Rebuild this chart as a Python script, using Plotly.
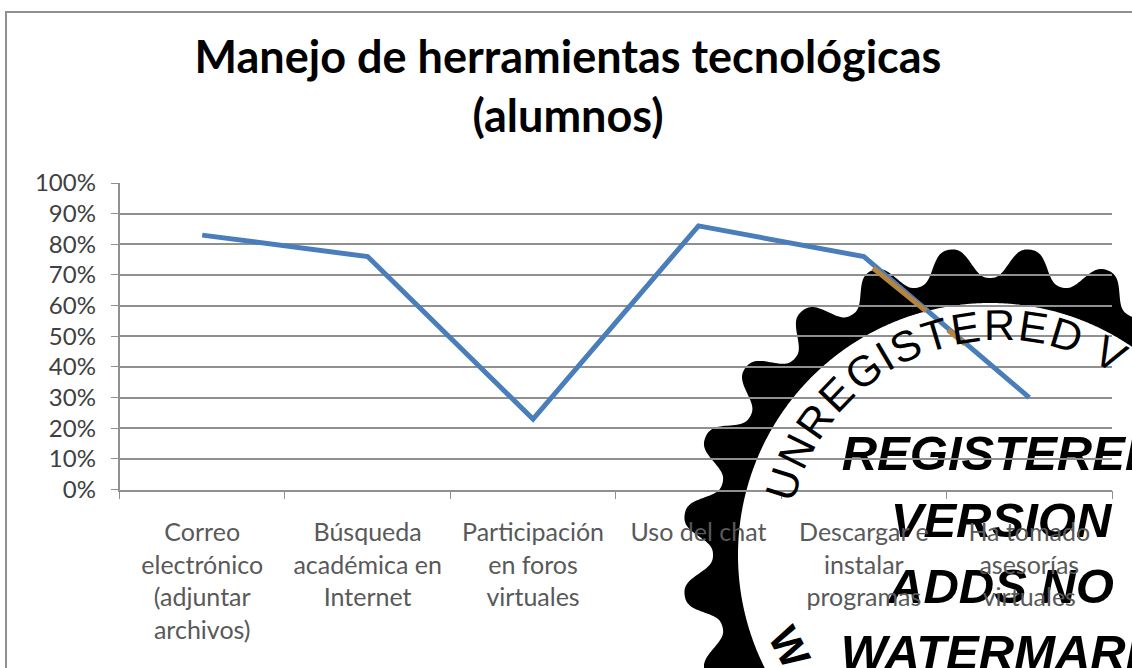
import numpy as np
import plotly.graph_objects as go

# ---- chart data ----
category_lines = [
    ["Correo", "electrónico", "(adjuntar", "archivos)"],
    ["Búsqueda", "académica en", "Internet"],
    ["Participación", "en foros", "virtuales"],
    ["Uso del chat"],
    ["Descargar e", "instalar", "programas"],
    ["Ha tomado", "asesorías", "virtuales"],
]
values = [0.83, 0.76, 0.23, 0.86, 0.76, 0.30]
y_ticks = [i / 10 for i in range(11)]
title_lines = ["Manejo de herramientas tecnológicas", "(alumnos)"]

# ---- watermark text ----
wm_lines = ["REGISTERED", "VERSION", "ADDS NO", "WATERMARK"]
wm_arc_text = "UNREGISTERED VE"

W, H = 1132, 668
L, R, T, B = 119.5, 1112.0, 183.0, 489.5
GRID = "#909090"
LINE = "#4a7ebb"

labels = ["<br>".join(lines) for lines in category_lines]

fig = go.Figure()

# First subplot spans the page in pixel units and holds the watermark, so the chart sits on top of it.
fig.add_trace(go.Scatter(
    x=[1001] * 4, y=[458, 525, 591, 657], text=[f"<b><i>{s}</i></b>" for s in wm_lines],
    mode="text", textposition="middle center", cliponaxis=False,
    textfont=dict(family="Liberation Sans", size=49, color="black"),
    xaxis="x", yaxis="y", showlegend=False, hoverinfo="skip"))

fig.add_trace(go.Scatter(x=labels, y=values, mode="lines", line=dict(color=LINE, width=5),
                         xaxis="x2", yaxis="y2", showlegend=False, hoverinfo="skip"))

# ---- watermark gear (ring with toothed outer edge) ----
CX, CY = 990.0, 555.0
RI, RV, RO = 252.0, 277.0, 308.0
th = np.radians(np.arange(0, 360, 0.25))
c = np.cos(24 * (th - np.radians(7.5)))
prof = 0.5 + 0.5 * (1.3 * c - 0.3 * c**3)
rad = RV + (RO - RV) * prof
outer = [(CX + r * np.sin(t), CY - r * np.cos(t)) for r, t in zip(rad, th)]
inner = [(CX + RI * np.sin(t), CY - RI * np.cos(t)) for t in th[::-1]]


def to_path(pts):
    return "M" + " L".join(f"{a:.2f},{b:.2f}" for a, b in pts) + " Z"


shapes = [
    dict(type="rect", xref="x", yref="y", x0=6, x1=1150, y0=12, y1=700,
         line=dict(color=GRID, width=2), layer="below"),
    dict(type="path", xref="x", yref="y", path=to_path(outer) + " " + to_path(inner),
         fillcolor="black", line=dict(width=0), layer="below"),
    dict(type="line", xref="x", yref="y", x0=873, y0=268, x1=926, y1=311,
         line=dict(color="#b5853f", width=5), layer="above"),
    dict(type="line", xref="x", yref="y", x0=948, y0=330, x1=965, y1=344,
         line=dict(color="#b5853f", width=5), layer="above"),
]

# ---- watermark text on the arc ----
widths = {"U": 722, "N": 722, "R": 722, "E": 667, "G": 778, "I": 278, "S": 667, "T": 611, "D": 722, " ": 278, "V": 667}
TX, TY, TR = 1000.0, 552.0, 227.0
start, scale = -72.6, 99.3 / 7997
annotations = []
pos = widths[wm_arc_text[0]] / 2
for i, ch in enumerate(wm_arc_text):
    if i > 0:
        pos += widths[wm_arc_text[i - 1]] / 2 + widths[ch] / 2
    ang = start + (pos - widths[wm_arc_text[0]] / 2) * scale
    if ch == " ":
        continue
    a = np.radians(ang)
    annotations.append(dict(
        text=ch, xref="x", yref="y", x=TX + TR * np.sin(a), y=TY - TR * np.cos(a),
        xanchor="center", yanchor="middle", showarrow=False, textangle=float(ang),
        font=dict(family="Liberation Sans", size=43, color="black")))
annotations.append(dict(
    text="<b>W</b>", xref="x", yref="y", x=790, y=647, xanchor="center", yanchor="middle",
    showarrow=False, textangle=62, font=dict(family="Liberation Sans", size=42, color="black")))

fig.update_layout(
    width=W, height=H, autosize=False,
    margin=dict(l=0, r=0, t=0, b=0, pad=0),
    paper_bgcolor="white", plot_bgcolor="rgba(0,0,0,0)",
    font=dict(family="Lato"),
    title=dict(
        text="<br>".join(title_lines),
        font=dict(family="Lato", size=45, color="black", weight="bold"),
        x=568 / W, xanchor="center", y=1 - 73 / H, yanchor="top"),
    xaxis=dict(domain=[0, 1], range=[0, W], visible=False, anchor="y"),
    yaxis=dict(domain=[0, 1], range=[H, 0], visible=False, anchor="x"),
    xaxis2=dict(
        domain=[L / W, R / W], anchor="y2",
        type="category", range=[-0.5, 5.5], tickson="boundaries", ticks="outside", ticklen=8,
        tickcolor=GRID, tickwidth=1, showline=True, linecolor=GRID, linewidth=1.5, showgrid=False,
        tickfont=dict(family="Lato", size=25, color="#595959"), tickangle=0, ticklabelstandoff=20,
        automargin=False),
    yaxis2=dict(
        domain=[(H - B) / H, (H - T) / H], anchor="x2",
        range=[0, 1], tickvals=y_ticks, tickformat=".0%", ticks="outside", ticklen=7,
        tickcolor=GRID, tickwidth=1, showline=True, linecolor=GRID, linewidth=1.5,
        showgrid=True, gridcolor=GRID, gridwidth=1.5, zeroline=False,
        tickfont=dict(family="Lato", size=24, color="#404040"), ticklabelstandoff=10,
        automargin=False),
    shapes=shapes, annotations=annotations,
)

fig.write_html("out.html", config={"displayModeBar": False},
               post_script="document.body.style.margin='0';document.body.style.overflow='hidden';")
